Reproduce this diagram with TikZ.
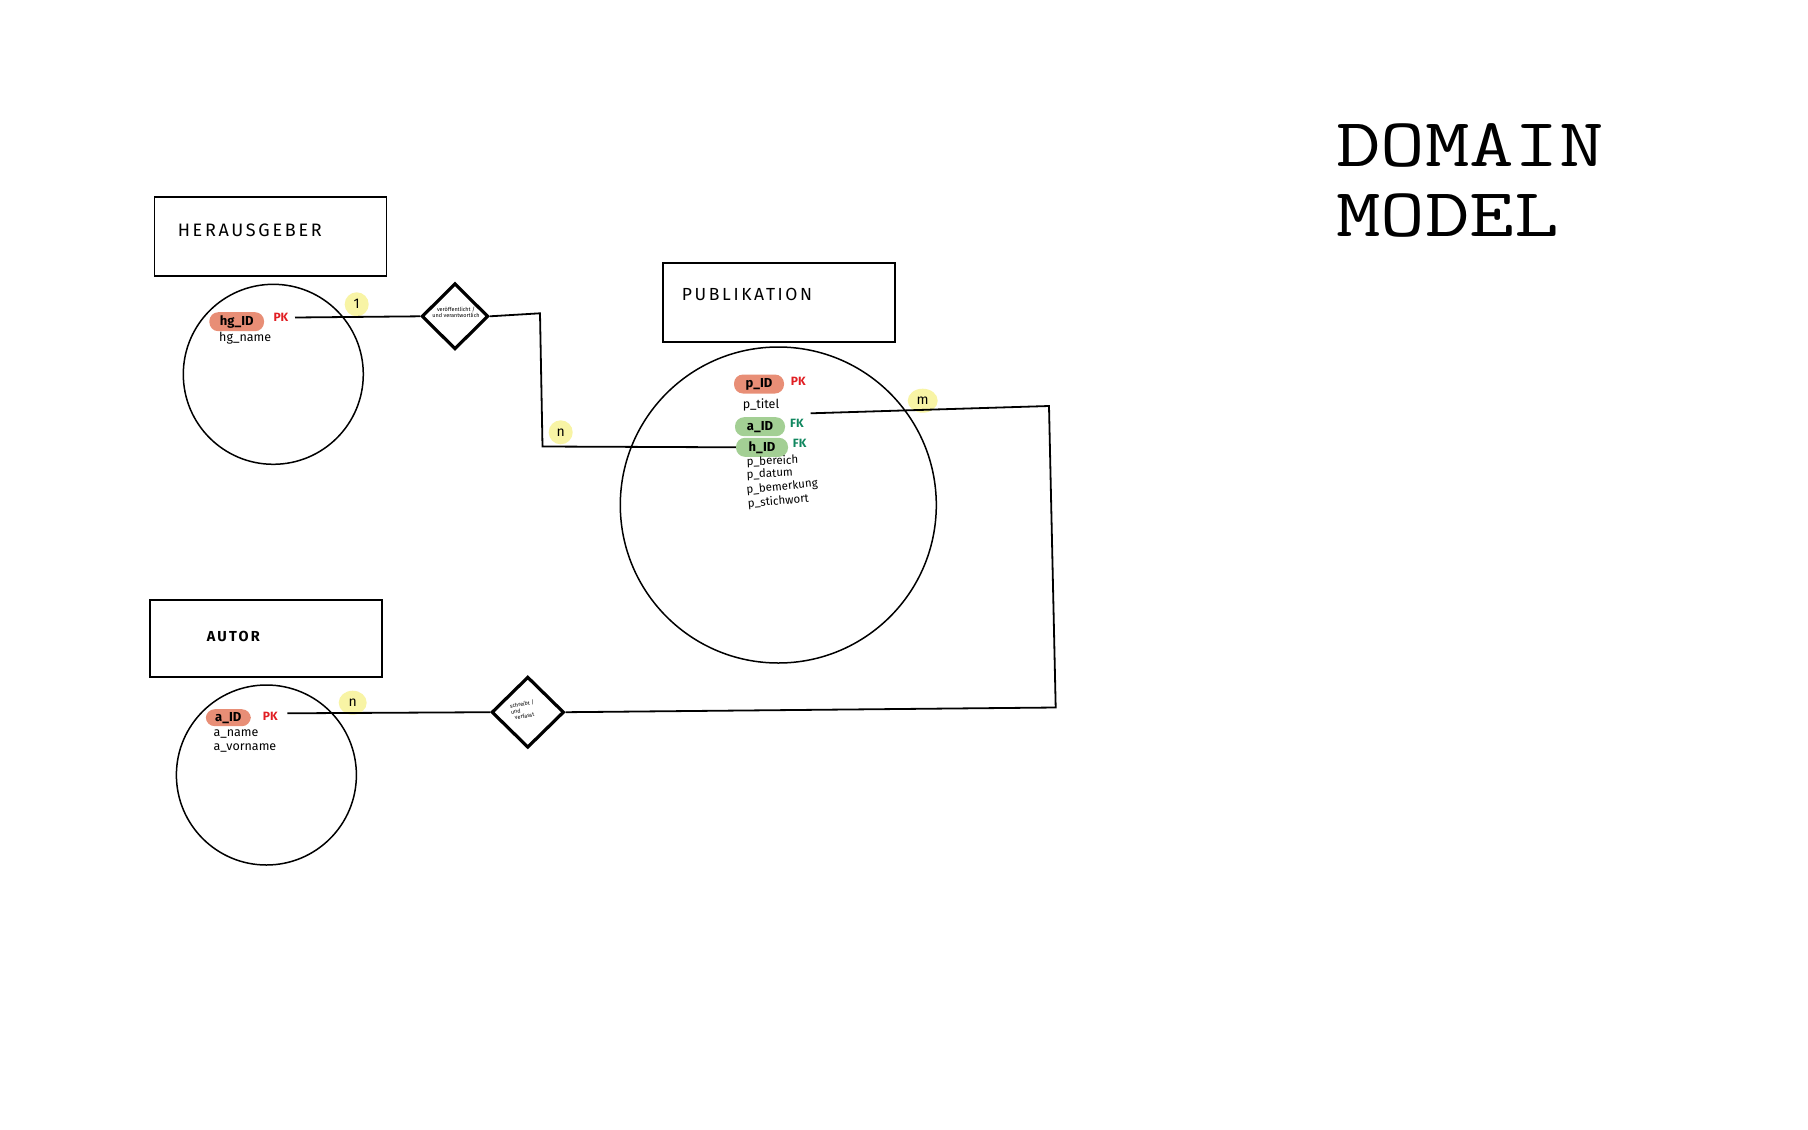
\documentclass[tikz,border=0pt]{standalone}
\usepackage{fontspec}
\usepackage{graphicx}
\usetikzlibrary{shapes.geometric}
\newfontfamily\hand{Fira Sans}
\newfontfamily\handsp[LetterSpace=15]{Fira Sans}
\definecolor{salmon}{RGB}{232,142,118}
\definecolor{fkgreen}{RGB}{163,207,148}
\definecolor{cardyellow}{RGB}{248,244,165}
\definecolor{pkred}{RGB}{225,30,35}
\definecolor{fkcol}{RGB}{16,135,95}
\tikzset{
  ent/.style={draw, line width=1.7pt, inner sep=0pt},
  circ/.style={draw, circle, line width=1.5pt, inner sep=0pt},
  rel/.style={draw, diamond, line width=3.2pt, inner sep=0pt},
  conn/.style={line width=1.8pt},
  pill/.style={rounded corners=9pt, inner sep=0pt, minimum height=19pt, font=\hand\bfseries\fontsize{13}{13}\selectfont},
  pkpill/.style={pill, fill=salmon},
  fkpill/.style={pill, fill=fkgreen},
  lbl/.style={anchor=base west, inner sep=0pt, font=\hand\fontsize{12.5}{13}\selectfont},
  pk/.style={lbl, text=pkred, font=\hand\bfseries\fontsize{12}{12}\selectfont},
  fk/.style={lbl, text=fkcol, font=\hand\bfseries\fontsize{12}{12}\selectfont},
  card/.style={ellipse, fill=cardyellow, inner sep=0pt, font=\hand\fontsize{14}{14}\selectfont},
  reltext/.style={font=\hand\fontsize{5.5}{6}\selectfont, align=center, inner sep=0pt},
  title/.style={anchor=base west, inner sep=0pt},
}
\newcommand{\dmword}[1]{\scalebox{1.26}[1]{\ttfamily\fontsize{68.7}{70}\selectfont #1}}
\begin{document}
\begin{tikzpicture}[x=1pt,y=-1pt]
\useasboundingbox[fill=white] (0,0) rectangle (1808,1130);

% DOMAIN MODEL
\node[title] (dm1) at (1336,166.7) {\dmword{DOMAIN}};
\node[title] (dm2) at (1336,236.7) {\dmword{MODEL}};

% HERAUSGEBER
\node[ent, minimum width=232pt, minimum height=78.6pt] (hgbox) at (270.5,236.4) {};
\node[title, font=\handsp\fontsize{18}{18}\selectfont] (hgtitle) at (177.6,236.5) {HERAUSGEBER};
\node[circ, minimum size=180pt] (hgc) at (273.3,374.3) {};
\node[pkpill, minimum width=54.7pt] (hgid) at (236.7,321.7) {hg\_ID};
\node[pk] (hgpk) at (273.3,321.7) {PK};
\node[lbl] (hgname) at (219,341) {hg\_name};

% PUBLIKATION
\node[ent, minimum width=232.3pt, minimum height=79pt] (pubbox) at (778.8,302.2) {};
\node[title, font=\handsp\fontsize{17.5}{17.5}\selectfont] (pubtitle) at (681.7,300) {PUBLIKATION};
\node[circ, minimum size=316pt] (pubc) at (778.3,505) {};
\node[pkpill, minimum width=50pt] (pid) at (759,384) {p\_ID};
\node[pk] (ppk) at (790.7,385) {PK};
\node[lbl] (ptitel) at (742.7,408.5) {p\_titel};
\node[fkpill, minimum width=50pt] (aid) at (760,426.7) {a\_ID};
\node[fk] (afk) at (790,427) {FK};
\node[fkpill, minimum width=52pt] (hid) at (762,447.3) {h\_ID};
\node[fk] (hfk) at (792.7,447) {FK};
\node[lbl, font=\hand\fontsize{11.5}{12}\selectfont, rotate=2] (pbereich) at (746.7,465.5) {p\_bereich};
\node[lbl, font=\hand\fontsize{11.5}{12}\selectfont, rotate=3] (pdatum) at (746.7,478.5) {p\_datum};
\node[lbl, font=\hand\fontsize{11.5}{12}\selectfont, rotate=6] (pbem) at (746.7,494) {p\_bemerkung};
\node[lbl, font=\hand\fontsize{11.5}{12}\selectfont, rotate=5] (pstich) at (748,507.5) {p\_stichwort};

% AUTOR
\node[ent, minimum width=231.7pt, minimum height=77pt] (aubox) at (265.85,638.5) {};
\node[title, font=\handsp\bfseries\fontsize{14.5}{14.5}\selectfont] (autitle) at (206.7,641.7) {AUTOR};
\node[circ, minimum size=180pt] (auc) at (266.4,775) {};
\node[pkpill, minimum width=45pt, minimum height=17pt] (aaid) at (228.3,717.7) {a\_ID};
\node[pk] (aupk) at (262.7,720) {PK};
\node[lbl] (aname) at (213.3,736.5) {a\_name};
\node[lbl] (avorname) at (213.3,750.5) {a\_vorname};

% relationships
\node[rel, minimum width=66.6pt, minimum height=66pt] (d1) at (455,316.3) {};
\node[reltext] (d1t) at (456,312.5) {veröffentlicht /\\und verantwortlich};
\node[rel, minimum width=72.4pt, minimum height=71pt] (d2) at (527.8,712.2) {};
\node[reltext, rotate=10, align=left] (d2t) at (523,710) {schreibt /\\und\\\ \ verfasst};

% cardinalities
\node[card, minimum width=24pt, minimum height=24pt] (card1) at (356.7,304.3) {1};
\node[card, minimum width=24pt, minimum height=24pt] (card2) at (560.7,432.3) {n};
\node[card, minimum width=30pt, minimum height=24pt] (card3) at (922.7,400.7) {m};
\node[card, minimum width=28pt, minimum height=24pt] (card4) at (352.7,702.7) {n};

% connectors
\coordinate (s1) at (295,317.5);
\draw[conn] (s1) -- (d1.west);
\coordinate (k1) at (540,313.3);
\coordinate (k2) at (542.5,446.5);
\draw[conn] (d1.east) -- (k1) -- (k2) -- (hid.west);
\coordinate (s3) at (810.7,413.3);
\coordinate (k3) at (1049,406);
\coordinate (k4) at (1055.7,707.5);
\draw[conn] (s3) -- (k3) -- (k4) -- (d2.east);
\coordinate (s4) at (287.3,713.3);
\draw[conn] (s4) -- (d2.west);
\end{tikzpicture}
\end{document}
